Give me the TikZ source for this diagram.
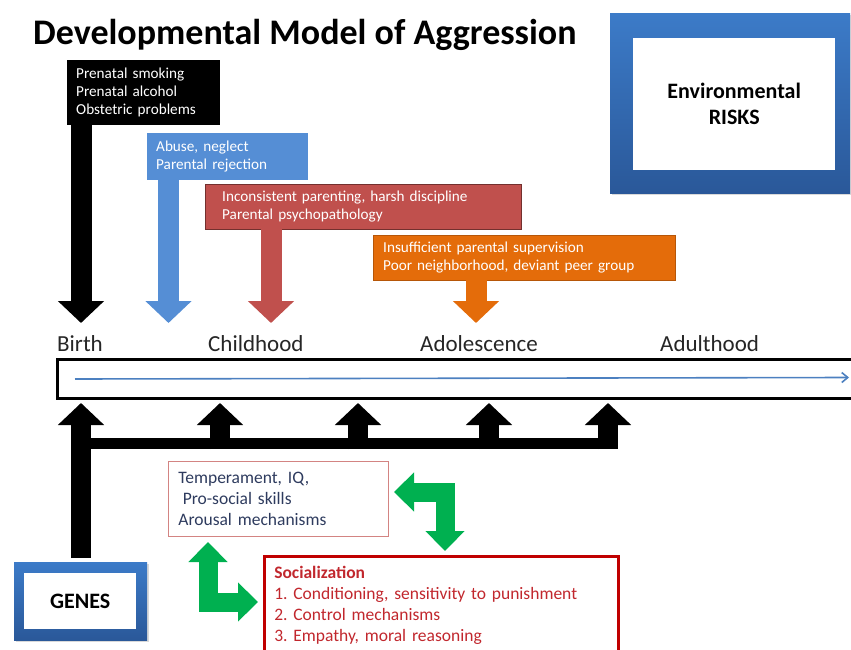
\documentclass[tikz,border=0pt]{standalone}
\usepackage{fontspec}
\setmainfont{Carlito}
\usetikzlibrary{arrows.meta,shadows,calc}
\frenchspacing

\definecolor{abuseblue}{HTML}{558ED5}
\definecolor{harshred}{HTML}{C0504D}
\definecolor{peerorange}{HTML}{E46C0A}
\definecolor{riskblue}{HTML}{3C7BC8}
\definecolor{riskbluedark}{HTML}{2A5899}
\definecolor{socgreen}{HTML}{00B050}
\definecolor{socred}{HTML}{C00000}
\definecolor{soctext}{HTML}{C1272D}
\definecolor{tempnavy}{HTML}{2E3B5E}
\definecolor{stagegray}{HTML}{262626}

\tikzstyle{riskbox}=[draw=none,inner sep=0pt,anchor=north west,top color=riskblue,bottom color=riskbluedark,drop shadow={opacity=0.3,shadow xshift=2pt,shadow yshift=-2pt}]
\tikzstyle{riskinner}=[fill=white,inner sep=0pt,anchor=north west,align=center,text=black,font=\fontsize{22}{26}\selectfont\bfseries]
\tikzstyle{factor}=[anchor=north west,inner sep=0pt,align=left,text=white,font=\fontsize{15.2}{18}\selectfont]
\tikzstyle{downarrow}=[line width=21pt,-{Triangle[width=45pt,length=22pt]}]
\tikzstyle{uparrow}=[line width=20pt,-{Triangle[width=45pt,length=22pt]}]
\tikzstyle{bentarrow}=[socgreen,line width=19pt,{Triangle[width=38pt,length=20pt]}-{Triangle[width=38pt,length=20pt]}]
\tikzstyle{stage}=[anchor=base west,inner sep=0pt,text=stagegray,font=\fontsize{23}{26}\selectfont]

\begin{document}
\begin{tikzpicture}[x=1pt,y=-1pt]

    \useasboundingbox (0,0) rectangle (851,650);
    \clip (0,0) rectangle (851,650);

    \node[anchor=base west,inner sep=0pt,font=\fontsize{36}{40}\selectfont\bfseries] (title) at (33,45) {Developmental Model of Aggression};

    % environmental risk factors
    \node[factor,fill=black,minimum width=153pt,minimum height=65pt,text width=135pt,inner xsep=9pt] (prenatal) at (67,60)
        {Prenatal smoking\\Prenatal alcohol\\Obstetric problems};
    \node[factor,fill=abuseblue,minimum width=161pt,minimum height=47pt,text width=143pt,inner xsep=9pt] (abuse) at (147,133)
        {Abuse, neglect\\Parental rejection};
    \node[factor,fill=harshred,draw=harshred!60!black,minimum width=316pt,minimum height=45pt,text width=282pt,inner xsep=17pt] (harsh) at (205,184)
        {Inconsistent parenting, harsh discipline\\Parental psychopathology};
    \node[factor,fill=peerorange,draw=peerorange!80!black,minimum width=302pt,minimum height=45pt,text width=282pt,inner xsep=10pt] (peer) at (373,235)
        {Insufficient parental supervision\\Poor neighborhood, deviant peer group};

    \node[riskbox,minimum width=240pt,minimum height=180pt] (env) at (610,13) {};
    \node[riskinner,minimum width=202pt,minimum height=132pt] (envtxt) at (633,38) {Environmental\\RISKS};

    \foreach \x/ \name in {81/d1, 168.5/d2, 271/d3, 476/d4}
        \coordinate (\name) at (\x,323);
    \draw[downarrow,black] (prenatal.south -| d1) -- (d1);
    \draw[downarrow,abuseblue] (abuse.south -| d2) -- (d2);
    \draw[downarrow,harshred] (harsh.south -| d3) -- (d3);
    \draw[downarrow,peerorange] (peer.south -| d4) -- (d4);

    % life course
    \foreach \x/ \name / \label in {57/birth/Birth, 208/child/Childhood, 420/adol/Adolescence, 660/adult/Adulthood}
        \node[stage] (\name) at (\x,351) {\label};

    \node[draw,line width=3pt,anchor=north west,minimum width=820pt,minimum height=39pt,inner sep=0pt] (life) at (56,358) {};
    \coordinate (lifeend) at (849,377.5);
    \draw[abuseblue!90!black,line width=1.6pt,-{Straight Barb[length=6pt,width=10pt]}] ([xshift=19pt]life.west) -- (lifeend);

    % genes
    \node[riskbox,minimum width=133pt,minimum height=78pt] (genes) at (14,562) {};
    \node[riskinner,minimum width=112pt,minimum height=56pt] (genestxt) at (24,573) {GENES};

    \foreach \x/ \name in {81/t1, 220/t2, 358/t3, 489/t4, 608/t5}
        \coordinate (\name) at (\x,403);
    \coordinate (barmid) at (0,443.5);
    \coordinate (barlow) at (0,449);
    \draw[line width=11pt] ([xshift=-10pt]t1 |- barmid) -- ([xshift=10pt]t5 |- barmid);
    \draw[uparrow] ([yshift=4pt]genes.north -| t1) -- (t1);
    \foreach \t in {t2,t3,t4,t5}
        \draw[uparrow] (\t |- barlow) -- (\t);

    % individual factors and socialization
    \node[draw=harshred!70!white,line width=0.8pt,anchor=north west,minimum width=220pt,minimum height=75pt,text width=200pt,inner xsep=10pt,inner ysep=0pt,align=left,text=tempnavy,font=\fontsize{17.5}{21}\selectfont] (temp) at (168,461)
        {Temperament, IQ,\\\hspace{0.25em}Pro-social skills\\Arousal mechanisms};
    \node[draw=socred,line width=2.5pt,anchor=north west,minimum width=354pt,text width=334pt,inner xsep=10pt,inner ysep=10pt,align=left,text=soctext,font=\fontsize{17.5}{21}\selectfont] (soc) at (263,555)
        {\textbf{Socialization}\\1. Conditioning, sensitivity to punishment\\2. Control mechanisms\\3. Empathy, moral reasoning\\};

    \coordinate (g1a) at (394,492);
    \coordinate (g1b) at (445,551);
    \coordinate (g2a) at (208,542);
    \coordinate (g2b) at (258,602);
    \draw[bentarrow] (g1a) -| (g1b);
    \draw[bentarrow] (g2a) |- (g2b);

\end{tikzpicture}
\end{document}
